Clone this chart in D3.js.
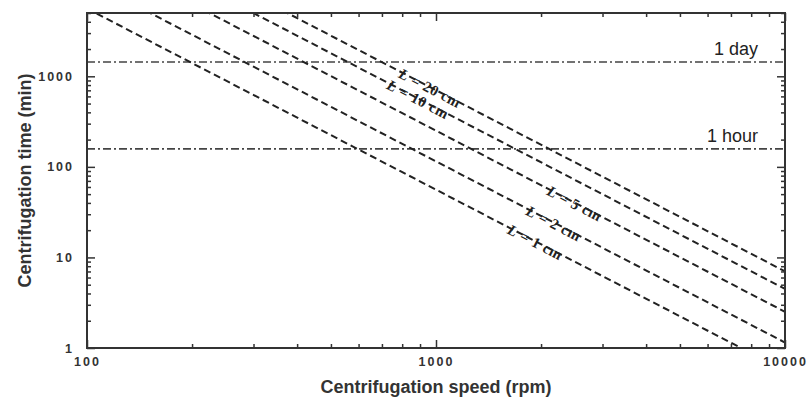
<!DOCTYPE html>
<html>
<head>
<meta charset="utf-8">
<script src="https://cdn.jsdelivr.net/npm/d3@7"></script>
<style>
  body { margin: 0; background: #fff; }
  .tick text { font-family: "Liberation Sans", Arial, sans-serif; font-weight: bold; font-size: 12.5px; letter-spacing: 2px; fill: #333; }
</style>
</head>
<body>
<div id="chart"></div>
<script>
(function() {
// data
var rpm = [100, 1000, 10000];
var lengths = ["1", "2", "5", "10", "20"];
var timeL1 = [5600, 56, 0.56];
var timeL2 = [11500, 115, 1.15];
var timeL5 = [25100, 251, 2.51];
var timeL10 = [44900, 449, 4.49];
var timeL20 = [70200, 702, 7.02];
var labelRpm = [1620, 1830, 2100, 730, 790];
var refTimes = [1440, 158];
var refLabels = ["1 day", "1 hour"];
var xMajor = [100, 1000, 10000];
var yMajor = [1, 10, 100, 1000];

var series = [timeL1, timeL2, timeL5, timeL10, timeL20];

var width = 809,
  height = 398,
  margin = {top: 13, right: 24, bottom: 50, left: 87};

var svg = d3.select("#chart")
.append("svg")
.attr("width", width)
.attr("height", height)

var g = svg.append("g")
.attr("transform", "translate(" + margin.left + "," + margin.top + ")")

var w = width - margin.left - margin.right,
  h = height - margin.top - margin.bottom;

var x = d3.scaleLog().domain([100, 10000]).range([0, w]);
var y = d3.scaleLog().domain([1, 5000]).range([h, 0]);

// minor ticks 2..9 in each decade
var xMinor = [], yMinor = [];
for (var d = 100; d < 10000; d *= 10) {
  for (var k = 2; k < 10; k++) xMinor.push(d * k);
}
for (var d = 1; d < 5000; d *= 10) {
  for (var k = 2; k < 10; k++) if (d * k <= 5000) yMinor.push(d * k);
}

g.append("clipPath").attr("id", "clip")
.append("rect").attr("width", w).attr("height", h)

// reference lines (1 day, 1 hour)
g.selectAll(".ref")
.data(refTimes)
.enter().append("line")
.attr("class", "ref")
.attr("x1", 0)
.attr("x2", w)
.attr("y1", function(d) { return y(d) })
.attr("y2", function(d) { return y(d) })
.attr("stroke", "#444")
.attr("stroke-width", 1.6)
.attr("stroke-dasharray", "8,3,2,3")

g.selectAll(".reflabel")
.data(refTimes)
.enter().append("text")
.attr("x", w - 27)
.attr("y", function(d) { return y(d) - 7 })
.attr("text-anchor", "end")
.style("font-family", "Liberation Sans, Arial, sans-serif")
.style("font-size", "18px")
.style("fill", "#222")
.text(function(d, i) { return refLabels[i] })

var line = d3.line()
.x(function(d, i) { return x(rpm[i]) })
.y(function(d) { return y(d) })

g.append("g")
.attr("clip-path", "url(#clip)")
.selectAll(".series")
.data(series)
.enter().append("path")
.attr("class", "series")
.attr("d", line)
.attr("fill", "none")
.attr("stroke", "#222")
.attr("stroke-width", 2)
.attr("stroke-dasharray", "7,4")

// labels along the lines
var angle = Math.atan2(y(1) - y(100), x(10000) - x(1000)) * 180 / Math.PI;
function timeAt(s, r) {
  // straight line in log-log between data points
  var lr = Math.log10(r), l0 = Math.log10(rpm[0]), l2 = Math.log10(rpm[2]);
  var t0 = Math.log10(s[0]), t2 = Math.log10(s[2]);
  return Math.pow(10, t0 + (t2 - t0) * (lr - l0) / (l2 - l0));
}

var labels = g.selectAll(".llabel")
.data(series)
.enter().append("text")
.attr("class", "llabel")
.attr("transform", function(s, i) {
  return "translate(" + x(labelRpm[i]) + "," + y(timeAt(s, labelRpm[i])) + ") rotate(" + angle + ")"
})
.attr("dy", "0.4em")
.style("font-family", "Liberation Serif, Times New Roman, serif")
.style("font-weight", "bold")
.style("font-size", "15px")
.style("letter-spacing", "0.5px")
.style("fill", "#222")

labels.append("tspan").style("font-style", "italic").text("L")
labels.append("tspan").text(function(s, i) { return " = " + lengths[i] + " cm" })

// axes, ticks inside on all four sides
function drawAxis(axisFn, scale, values, size, labelled, transform) {
  var a = axisFn(scale).tickValues(values).tickSizeInner(-size).tickSizeOuter(0);
  if (labelled) a.tickPadding(labelled).tickFormat(d3.format("d"));
  else a.tickFormat("");
  var ag = g.append("g").attr("transform", transform || null).call(a);
  ag.select(".domain").remove();
  ag.selectAll(".tick line").attr("stroke", "#333").attr("stroke-width", 1.5);
  return ag;
}

drawAxis(d3.axisBottom, x, xMinor, 4, 0, "translate(0," + h + ")")
drawAxis(d3.axisBottom, x, xMajor, 8, 9, "translate(0," + h + ")")
drawAxis(d3.axisTop, x, xMinor, 4, 0)
drawAxis(d3.axisTop, x, xMajor, 8, 0)
drawAxis(d3.axisLeft, y, yMinor, 4, 0)
drawAxis(d3.axisLeft, y, yMajor, 8, 13)
drawAxis(d3.axisRight, y, yMinor, 4, 0, "translate(" + w + ",0)")
drawAxis(d3.axisRight, y, yMajor, 8, 0, "translate(" + w + ",0)")

g.append("rect")
.attr("width", w)
.attr("height", h)
.attr("fill", "none")
.attr("stroke", "#333")
.attr("stroke-width", 2)

svg.append("text")
.attr("x", margin.left + w / 2)
.attr("y", 393)
.attr("text-anchor", "middle")
.style("font-family", "Liberation Sans, Arial, sans-serif")
.style("font-weight", "bold")
.style("font-size", "18px")
.style("fill", "#333")
.text("Centrifugation speed (rpm)")

svg.append("text")
.attr("transform", "translate(31," + (margin.top + h / 2) + ") rotate(-90)")
.attr("text-anchor", "middle")
.style("font-family", "Liberation Sans, Arial, sans-serif")
.style("font-weight", "bold")
.style("font-size", "18px")
.style("fill", "#333")
.text("Centrifugation time (min)")

})();
</script>
</body>
</html>
